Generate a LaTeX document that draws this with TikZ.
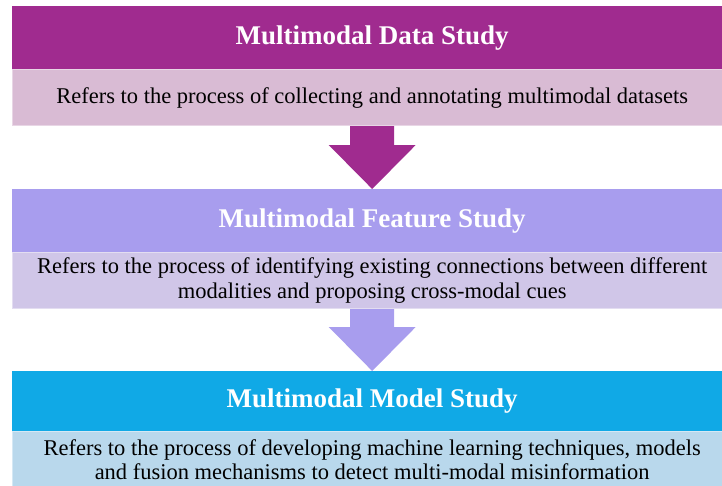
\documentclass[tikz,border=0pt]{standalone}
\usepackage{fontspec}
\setmainfont{Liberation Serif}
\usepackage{tikz}
\usetikzlibrary{positioning, calc}

\definecolor{dataHead}{HTML}{A02B8F}
\definecolor{dataDesc}{HTML}{D9BBD4}
\definecolor{featHead}{HTML}{A89DEE}
\definecolor{featDesc}{HTML}{D0C6E8}
\definecolor{modelHead}{HTML}{10A9E6}
\definecolor{modelDesc}{HTML}{B9D8EC}

\begin{document}
\begin{tikzpicture}[node distance=0pt,
        head/.style={inner sep=0pt,minimum width=720pt,minimum height=63pt,text=white,
            font=\fontsize{27}{30}\selectfont\bfseries},
        desc/.style={inner sep=0pt,minimum width=720pt,minimum height=56pt,align=center,
            draw=white!40!#1,line width=0.6pt,fill=#1,font=\fontsize{22.5}{24.5}\selectfont}]
        \useasboundingbox (0,0) rectangle (722pt,-485pt);

        \node[head,fill=dataHead,anchor=north west] (head_1) at (12pt,-6pt) {Multimodal Data Study};
        \node[desc=dataDesc] (desc_1) [below=of head_1] {Refers to the process of collecting and annotating multimodal datasets};
        \node[head,fill=featHead] (head_2) [below=63pt of desc_1] {Multimodal Feature Study};
        \node[desc=featDesc] (desc_2) [below=of head_2] {Refers to the process of identifying existing connections between different\\modalities and proposing cross-modal cues};
        \node[head,fill=modelHead,minimum height=60pt] (head_3) [below=62pt of desc_2] {Multimodal Model Study};
        \node[desc=modelDesc] (desc_3) [below=of head_3] {Refers to the process of developing machine learning techniques, models\\and fusion mechanisms to detect multi-modal misinformation};

        % fat arrows between the stages
        \coordinate (a_1) at (desc_1.south);
        \coordinate (t_1) at (head_2.north);
        \fill[dataHead] ($(a_1)+(-22pt,0)$) -- ($(a_1)+(-22pt,-19pt)$) -- ($(a_1)+(-43.5pt,-19pt)$)
            -- (t_1) -- ($(a_1)+(43.5pt,-19pt)$) -- ($(a_1)+(22pt,-19pt)$) -- ($(a_1)+(22pt,0)$) -- cycle;
        \coordinate (a_2) at (desc_2.south);
        \coordinate (t_2) at (head_3.north);
        \fill[featHead] ($(a_2)+(-22pt,0)$) -- ($(a_2)+(-22pt,-18pt)$) -- ($(a_2)+(-43.5pt,-18pt)$)
            -- (t_2) -- ($(a_2)+(43.5pt,-18pt)$) -- ($(a_2)+(22pt,-18pt)$) -- ($(a_2)+(22pt,0)$) -- cycle;
\end{tikzpicture}
\end{document}
